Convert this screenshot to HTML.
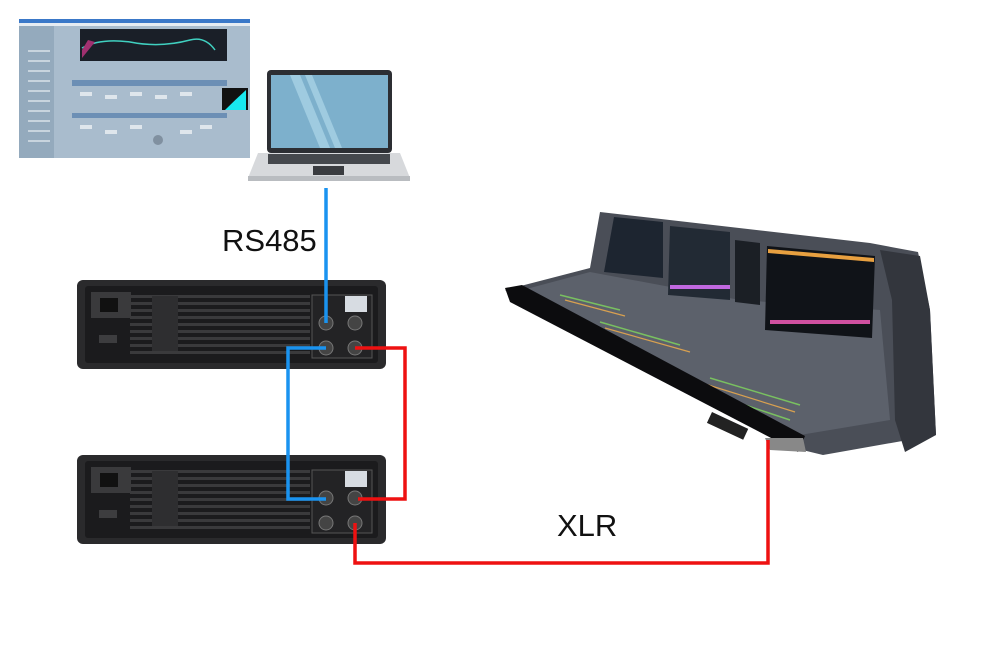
<!DOCTYPE html>
<html><head><meta charset="utf-8"><style>
html,body{margin:0;padding:0;background:#fff;}
svg{display:block;}
</style></head><body>
<svg width="1000" height="667" viewBox="0 0 1000 667" xmlns="http://www.w3.org/2000/svg">
<!-- software screenshot -->
<rect x="19" y="19" width="231" height="139" fill="#a9bccd"/>
<rect x="19" y="19" width="231" height="4" fill="#3a78c8"/>
<rect x="19" y="23" width="231" height="3" fill="#e6ecf2"/>
<rect x="19" y="26" width="35" height="132" fill="#94aabd"/>
<g fill="#c8d4de"><rect x="28" y="50" width="22" height="2"/><rect x="28" y="60" width="22" height="2"/><rect x="28" y="70" width="22" height="2"/><rect x="28" y="80" width="22" height="2"/><rect x="28" y="90" width="22" height="2"/><rect x="28" y="100" width="22" height="2"/><rect x="28" y="110" width="22" height="2"/><rect x="28" y="120" width="22" height="2"/><rect x="28" y="130" width="22" height="2"/><rect x="28" y="140" width="22" height="2"/></g>
<rect x="80" y="29" width="147" height="32" fill="#1a1f28"/>
<path d="M82 48 Q100 38 130 42 Q160 48 190 40 Q205 36 215 50" stroke="#40d0c0" stroke-width="1.5" fill="none"/>
<path d="M82 50 L88 40 L95 42 L82 58 Z" fill="#a03070"/>
<rect x="72" y="80" width="155" height="6" fill="#6c8fb5"/>
<rect x="72" y="113" width="155" height="5" fill="#6c8fb5"/>
<g fill="#dfe6ec"><rect x="80" y="92" width="12" height="4"/><rect x="105" y="95" width="12" height="4"/><rect x="130" y="92" width="12" height="4"/><rect x="155" y="95" width="12" height="4"/><rect x="180" y="92" width="12" height="4"/><rect x="80" y="125" width="12" height="4"/><rect x="105" y="130" width="12" height="4"/><rect x="130" y="125" width="12" height="4"/><rect x="180" y="130" width="12" height="4"/><rect x="200" y="125" width="12" height="4"/></g>
<rect x="222" y="88" width="26" height="22" fill="#111"/>
<path d="M225 110 Q235 100 246 90 L246 110 Z" fill="#18e8f0"/>
<circle cx="158" cy="140" r="5" fill="#8090a0"/>
<!-- laptop -->
<rect x="267" y="70" width="125" height="83" rx="4" fill="#2c2e33"/>
<rect x="271" y="75" width="117" height="73" fill="#7db0cc"/>
<polygon points="290,75 300,75 330,148 320,148" fill="#9fcbe0"/>
<polygon points="305,75 312,75 342,148 335,148" fill="#9fcbe0"/>
<polygon points="258,153 400,153 410,178 248,178" fill="#d7d9dc"/>
<rect x="248" y="176" width="162" height="5" fill="#b9bcc0"/>
<rect x="268" y="154" width="122" height="10" fill="#45484d"/>
<rect x="313" y="166" width="31" height="9" fill="#3a3c40"/>
<!-- text -->
<text x="222" y="251" font-family="Liberation Sans, sans-serif" font-size="31" fill="#111">RS485</text>
<text x="557" y="536" font-family="Liberation Sans, sans-serif" font-size="31" fill="#111">XLR</text>
<!-- amplifiers -->
<g id="amp">
<rect x="77" y="280" width="309" height="89" rx="6" fill="#2a2a2c"/>
<rect x="85" y="286" width="293" height="77" rx="3" fill="#1b1b1d"/>
<rect x="91" y="292" width="40" height="26" fill="#3a3a3c"/>
<rect x="100" y="298" width="18" height="14" fill="#111"/>
<rect x="99" y="335" width="18" height="8" fill="#3d3d3f"/>
<g fill="#3a3a3c">
<rect x="130" y="295" width="180" height="3"/><rect x="130" y="302" width="180" height="3"/><rect x="130" y="309" width="180" height="3"/><rect x="130" y="316" width="180" height="3"/><rect x="130" y="323" width="180" height="3"/><rect x="130" y="330" width="180" height="3"/><rect x="130" y="337" width="180" height="3"/><rect x="130" y="344" width="180" height="3"/><rect x="130" y="351" width="180" height="3"/>
</g>
<rect x="152" y="296" width="26" height="55" fill="#2e2e30"/>
<rect x="312" y="295" width="60" height="63" fill="#232325" stroke="#555" stroke-width="1"/>
<rect x="345" y="296" width="22" height="16" fill="#d7dce2"/>
<circle cx="326" cy="323" r="7" fill="#444" stroke="#777"/>
<circle cx="355" cy="323" r="7" fill="#444" stroke="#777"/>
<circle cx="326" cy="348" r="7" fill="#444" stroke="#777"/>
<circle cx="355" cy="348" r="7" fill="#444" stroke="#777"/>
</g>
<use href="#amp" transform="translate(0,175)"/>
<!-- console -->
<polygon points="505,290 590,268 600,212 870,243 918,252 930,310 936,435 823,455 790,447" fill="#4a4e57"/>
<polygon points="515,292 590,272 740,300 880,310 890,420 800,435" fill="#5c616b"/>
<polygon points="614,217 663,222 663,278 604,272" fill="#1d2530"/>
<polygon points="670,226 730,232 730,300 668,295" fill="#222a34"/>
<rect x="670" y="285" width="60" height="4" fill="#c068e0"/>
<polygon points="735,240 760,243 760,305 735,302" fill="#1b1f25"/>
<polygon points="767,246 875,256 872,338 765,330" fill="#101318"/>
<polygon points="768,249 874,258 874,262 768,253" fill="#e8a040"/>
<rect x="770" y="320" width="100" height="4" fill="#d050a0"/>
<g stroke="#79c060" stroke-width="1.5">
<path d="M560 295 L620 310"/><path d="M600 322 L680 345"/><path d="M700 390 L790 420"/><path d="M710 378 L800 405"/>
</g>
<g stroke="#d8a050" stroke-width="1.2">
<path d="M565 300 L625 316"/><path d="M605 328 L690 352"/><path d="M705 384 L795 412"/>
</g>
<polygon points="880,250 920,256 930,310 936,435 905,452 895,420 892,300" fill="#33363d"/>
<!-- front rail -->
<polygon points="505,288 522,285 805,436 798,452 510,302" fill="#0c0c0e"/>
<polygon points="765,438 803,438 806,452 770,450" fill="#888"/>
<rect x="712" y="412" width="40" height="12" fill="#222" transform="rotate(25 712 412)"/>
<!-- cables -->
<g fill="none" stroke-width="3.5" stroke-linejoin="miter">
<path d="M326 188 L326 323" stroke="#1a93f0"/>
<path d="M326 348 L288 348 L288 499 L326 499" stroke="#1a93f0"/>
<path d="M355 348 L405 348 L405 499 L358 499" stroke="#ee1111"/>
<path d="M355 523 L355 563 L768 563 L768 440" stroke="#ee1111"/>
</g>
</svg>
</body></html>
